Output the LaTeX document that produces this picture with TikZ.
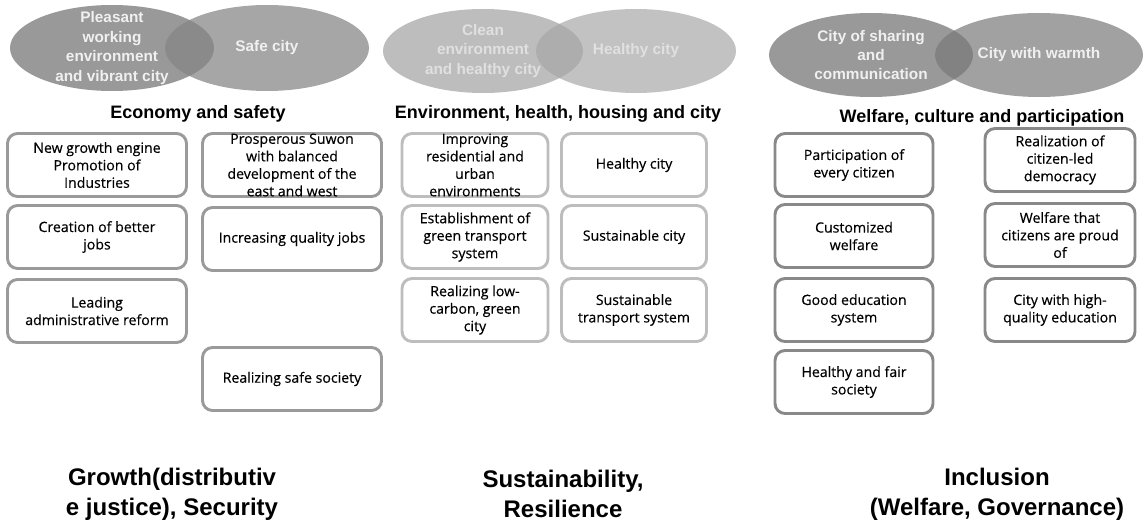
\documentclass[tikz,border=0pt]{standalone}
\usepackage{fontspec}
\setmainfont{Liberation Sans}
\newfontfamily\boxfont[FakeBold=0.35]{Open Sans}
\usetikzlibrary{shapes.geometric}
\definecolor{lineA}{HTML}{9A9A9A}
\definecolor{lineB}{HTML}{BDBDBD}
\definecolor{lineC}{HTML}{898989}
\tikzset{
  blob/.style={ellipse,inner sep=0pt,minimum width=153pt,minimum height=64.5pt},
  blobtext/.style={align=center,text=white!94!black,font=\fontsize{11.5}{14.6}\selectfont\bfseries},
  box/.style={draw=lineA,line width=2.2pt,rounded corners=7.5pt,fill=white,align=center,
    inner xsep=2pt,inner ysep=-3pt,minimum height=47.25pt,font=\boxfont\fontsize{10.6}{13.1}\selectfont},
  head/.style={font=\fontsize{13.5}{16}\selectfont\bfseries},
  goal/.style={align=center,font=\fontsize{18}{22.5}\selectfont\bfseries}
}
\begin{document}
\begin{tikzpicture}[x=0.75pt,y=-0.75pt]
\useasboundingbox (0,0) rectangle (1144,527);
% ellipses
\node[blob,fill=black!40] (e1a) at (112,48) {};
\node[blob,fill=black!35] (e1b) at (267,48) {};
\begin{scope}\clip (e1a.center) ellipse (76.5pt and 32.25pt);\fill[black!46] (e1b.center) ellipse (76.5pt and 32.25pt);\end{scope}
\node[blob,fill=black!26,minimum width=150pt,minimum height=63pt] (e2a) at (483,51) {};
\node[blob,fill=black!24,minimum width=150pt,minimum height=63pt] (e2b) at (636,51) {};
\begin{scope}\clip (e2a.center) ellipse (75pt and 31.5pt);\fill[black!32] (e2b.center) ellipse (75pt and 31.5pt);\end{scope}
\node[blob,fill=black!40,minimum height=63pt] (e3a) at (871,55) {};
\node[blob,fill=black!37,minimum width=156pt,minimum height=63pt] (e3b) at (1039,55) {};
\begin{scope}\clip (e3a.center) ellipse (76.5pt and 31.5pt);\fill[black!49] (e3b.center) ellipse (78pt and 31.5pt);\end{scope}
\node[blobtext] (t1a) at (e1a) {Pleasant\\working\\environment\\and vibrant city};
\node[blobtext] (t1b) at (e1b) {Safe city};
\node[blobtext,text=white!88!black] (t2a) at (e2a) {Clean\\environment\\and healthy city};
\node[blobtext,text=white!88!black] (t2b) at (e2b) {Healthy city};
\node[blobtext] (t3a) at (e3a) {City of sharing\\and\\communication};
\node[blobtext] (t3b) at (e3b) {City with warmth};
% headings
\node[head] (h1) at (198,114) {Economy and safety};
\node[head] (h2) at (558,114) {Environment, health, housing and city};
\node[head] (h3) at (982,118) {Welfare, culture and participation};
% boxes
\node[box,minimum width=134.25pt] (a1) at (97,165) {New growth engine\\Promotion of\\Industries};
\node[box,minimum width=134.25pt] (a2) at (97,237) {Creation of better\\jobs};
\node[box,minimum width=134.25pt] (a3) at (97,311) {Leading\\administrative reform};
\node[box,minimum width=134.25pt] (b1) at (292,165) {Prosperous Suwon\\with balanced\\development of the\\east and west};
\node[box,minimum width=134.25pt] (b2) at (292,239) {Increasing quality jobs};
\node[box,minimum width=134.25pt] (b4) at (292,379) {Realizing safe society};
\node[box,draw=lineB,minimum width=109.5pt] (c1) at (475,165) {Improving\\residential and\\urban\\environments};
\node[box,draw=lineB,minimum width=109.5pt] (c2) at (475,237) {Establishment of\\green transport\\system};
\node[box,draw=lineB,minimum width=109.5pt] (c3) at (475,310) {Realizing low-\\carbon, green\\city};
\node[box,draw=lineB,minimum width=108.75pt] (d1) at (634,165) {Healthy city};
\node[box,draw=lineB,minimum width=108.75pt] (d2) at (634,237) {Sustainable city};
\node[box,draw=lineB,minimum width=108.75pt] (d3) at (634,310) {Sustainable\\transport system};
\node[box,draw=lineC,minimum width=118.5pt] (f1) at (854,165) {Participation of\\every citizen};
\node[box,draw=lineC,minimum width=118.5pt] (f2) at (854,236) {Customized\\welfare};
\node[box,draw=lineC,minimum width=118.5pt] (f3) at (854,310) {Good education\\system};
\node[box,draw=lineC,minimum width=118.5pt] (f4) at (854,382) {Healthy and fair\\society};
\node[box,draw=lineC,minimum width=112.5pt] (g1) at (1060,160) {Realization of\\citizen-led\\democracy};
\node[box,draw=lineC,minimum width=112.5pt] (g2) at (1060,235) {Welfare that\\citizens are proud\\of};
\node[box,draw=lineC,minimum width=112.5pt] (g3) at (1060,310) {City with high-\\quality education};
% goals
\node[goal] (v1) at (172,494) {Growth(distributiv\\e justice), Security};
\node[goal] (v2) at (563,494) {Sustainability,\\Resilience};
\node[goal] (v3) at (997,494) {Inclusion\\(Welfare, Governance)};
\end{tikzpicture}
\end{document}
